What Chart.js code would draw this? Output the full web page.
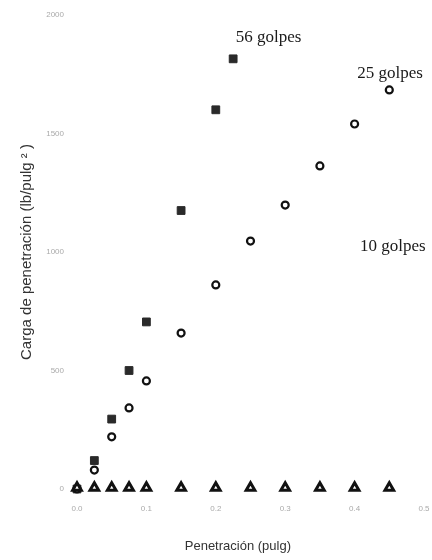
<!DOCTYPE html>
<html>
<head>
<meta charset="utf-8">
<script src="https://cdn.jsdelivr.net/npm/chart.js@4/dist/chart.umd.min.js"></script>
<style>
  html, body { margin: 0; padding: 0; background: #fff; }
  #wrap { width: 432px; height: 560px; }
</style>
</head>
<body>
<div id="wrap"><canvas id="chart"></canvas></div>
<script>
// penetration (pulg) for each set of blows
const pen56 = [0.0, 0.025, 0.05, 0.075, 0.1, 0.15, 0.2, 0.225];
const load56 = [0, 120, 295, 500, 705, 1175, 1600, 1815];

const pen25 = [0.0, 0.025, 0.05, 0.075, 0.1, 0.15, 0.2, 0.25, 0.3, 0.35, 0.4, 0.45];
const load25 = [0, 80, 220, 342, 456, 658, 861, 1046, 1198, 1363, 1540, 1684];

const pen10 = [0.0, 0.025, 0.05, 0.075, 0.1, 0.15, 0.2, 0.25, 0.3, 0.35, 0.4, 0.45];
const load10 = [5, 5, 5, 5, 5, 5, 5, 5, 5, 5, 5, 5];

const xTicks = [0.0, 0.1, 0.2, 0.3, 0.4, 0.5];
const yTicks = [0, 500, 1000, 1500, 2000];

// curve labels, placed in data units
const curveLabels = [
  { text: "56 golpes", x: 0.276, y: 1907 },
  { text: "25 golpes", x: 0.451, y: 1755 },
  { text: "10 golpes", x: 0.455, y: 1021 }
];

const toPoints = (xs, ys) => xs.map((x, i) => ({ x: x, y: ys[i] }));

const labelPlugin = {
  id: "curveLabels",
  afterDatasetsDraw(chart) {
    const { ctx, scales } = chart;
    ctx.save();
    ctx.font = "17px 'Liberation Serif', serif";
    ctx.fillStyle = "#1a1a1a";
    ctx.textAlign = "center";
    ctx.textBaseline = "middle";
    curveLabels.forEach(l => {
      ctx.fillText(l.text, scales.x.getPixelForValue(l.x), scales.y.getPixelForValue(l.y));
    });
    ctx.restore();
  }
};

new Chart(document.getElementById("chart"), {
  type: "scatter",
  data: {
    datasets: [
      {
        label: "10 golpes",
        data: toPoints(pen10, load10),
        pointStyle: "triangle",
        pointRadius: 5,
        backgroundColor: "#fff",
        borderColor: "#111",
        borderWidth: 3,
        clip: false
      },
      {
        label: "25 golpes",
        data: toPoints(pen25, load25),
        pointStyle: "circle",
        pointRadius: 3.5,
        backgroundColor: "#fff",
        borderColor: "#111",
        borderWidth: 2.2,
        clip: false
      },
      {
        label: "56 golpes",
        data: toPoints(pen56, load56),
        pointStyle: "rect",
        pointRadius: 5.5,
        backgroundColor: "#2a2a2a",
        borderColor: "#2a2a2a",
        borderWidth: 1,
        clip: false
      }
    ]
  },
  options: {
    responsive: true,
    maintainAspectRatio: false,
    animation: false,
    layout: { padding: { top: 15, right: 7, bottom: 0, left: 0 } },
    plugins: {
      legend: { display: false },
      tooltip: { enabled: false }
    },
    scales: {
      x: {
        type: "linear",
        min: 0,
        max: 0.5,
        afterFit: s => { s.height = 71; s.paddingLeft = 0; s.paddingRight = 0; },
        afterBuildTicks: s => { s.ticks = xTicks.map(v => ({ value: v })); },
        grid: { display: false, drawTicks: false },
        border: { display: false },
        ticks: {
          padding: 15,
          color: "#aaa",
          font: { family: "'Liberation Sans', Arial, sans-serif", size: 8 },
          callback: v => v.toFixed(1)
        },
        title: {
          display: true,
          text: "Penetración (pulg)       ",
          color: "#333",
          font: { family: "'Liberation Sans', Arial, sans-serif", size: 13 },
          padding: { top: 0, bottom: 6 }
        }
      },
      y: {
        type: "linear",
        min: 0,
        max: 2000,
        afterFit: s => { s.width = 77; s.paddingTop = 0; s.paddingBottom = 0; },
        afterBuildTicks: s => { s.ticks = yTicks.map(v => ({ value: v })); },
        grid: { display: false, drawTicks: false },
        border: { display: false },
        ticks: {
          padding: 13,
          color: "#aaa",
          font: { family: "'Liberation Sans', Arial, sans-serif", size: 8 },
          callback: v => String(v)
        },
        title: {
          display: true,
          text: "Carga de penetración (lb/pulg ² )",
          color: "#333",
          font: { family: "'Liberation Sans', Arial, sans-serif", size: 15 },
          padding: { top: 18, bottom: 0 }
        }
      }
    }
  },
  plugins: [labelPlugin]
});
</script>
</body>
</html>
